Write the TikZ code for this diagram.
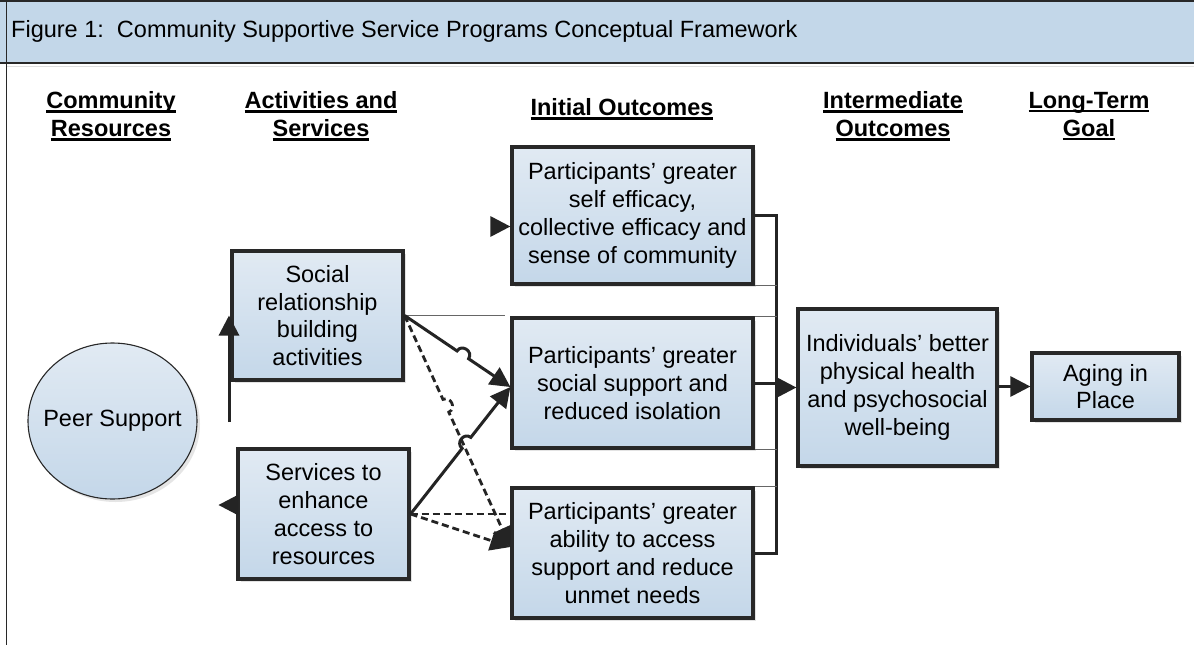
\documentclass[tikz,border=0pt]{standalone}
\usepackage{fontspec}
\setmainfont{Liberation Sans}
\usetikzlibrary{arrows.meta,calc,shadows,shapes.geometric}

\definecolor{bandfill}{HTML}{C3D7E9}
\definecolor{edgegray}{HTML}{282828}
\definecolor{boxtop}{HTML}{E1EAF3}
\definecolor{boxbot}{HTML}{C4D7E9}
\definecolor{linkgray}{HTML}{242424}

% bold column heading with a heavy underline
\newcommand{\hdrul}[1]{\setbox0=\hbox{#1}\rlap{\rule[-4pt]{\wd0}{2.4pt}}\box0}

\tikzset{
  txt/.style={font=\fontsize{23.5}{27.8}\selectfont},
  hdr/.style={font=\fontsize{23.5}{28}\selectfont\bfseries, align=center, inner sep=0pt},
  box/.style={txt, draw=edgegray, line width=3.2pt, top color=boxtop, bottom color=boxbot,
    inner sep=0pt, align=center,
    drop shadow={shadow xshift=3pt, shadow yshift=-3pt, opacity=0.22, fill=gray}},
  conn/.style={draw=linkgray, line width=3pt},
  dconn/.style={conn, line width=2.8pt, dash pattern=on 7pt off 4pt},
  thinconn/.style={draw=gray!80!black, line width=1.4pt},
  tip/.style={-{Triangle[length=20pt,width=20pt]}},
  hopped/.style={bend left=90, looseness=1.6}
}

\begin{document}
\begin{tikzpicture}[x=1pt,y=-1pt]
\useasboundingbox (0,0) rectangle (1194,645);
\fill[white] (0,0) rectangle (1194,645);

% title band
\fill[bandfill] (0,0) rectangle (1194,63);
\draw[edgegray, line width=1.8pt] (0,0.9) -- (1194,0.9);
\draw[edgegray, line width=1.6pt] (0,63) -- (1194,63);
\draw[gray!25, line width=1.5pt] (6,66.5) -- (1194,66.5);
\draw[edgegray, line width=1.4pt] (6.5,0) -- (6.5,645);
\node[txt, anchor=west, inner sep=0pt] (title) at (11,31)
  {Figure 1:\ \ Community Supportive Service Programs Conceptual Framework};

% column headings
\node[hdr] (hcr) at (111,116) {\hdrul{Community}\\\hdrul{Resources}};
\node[hdr] (has) at (321,116) {\hdrul{Activities and}\\\hdrul{Services}};
\node[hdr] (hio) at (622,109) {\hdrul{Initial Outcomes}};
\node[hdr] (him) at (893,116) {\hdrul{Intermediate}\\\hdrul{Outcomes}};
\node[hdr] (hlg) at (1089,116) {\hdrul{Long-Term}\\\hdrul{Goal}};

% resource
\node[txt, ellipse, draw=edgegray, line width=1.1pt, top color=boxtop, bottom color=boxbot,
  minimum width=169pt, minimum height=156pt, inner xsep=-10pt, inner ysep=0pt,
  drop shadow={shadow xshift=3pt, shadow yshift=-3pt, opacity=0.2, fill=gray}]
  (ps) at (112.5,421) {Peer Support};

% activities and services
\node[box, minimum width=171pt, minimum height=129pt] (sr) at (317.5,315.5)
  {Social\\relationship\\building\\activities};
\node[box, minimum width=171pt, minimum height=130pt] (sv) at (323.5,514)
  {Services to\\enhance\\access to\\resources};

% initial outcomes
\node[box, minimum width=241pt, minimum height=137pt] (io1) at (632.5,215.5)
  {Participants’ greater\\self efficacy,\\collective efficacy and\\sense of community};
\node[box, minimum width=241pt, minimum height=130pt] (io2) at (632.5,383)
  {Participants’ greater\\social support and\\reduced isolation};
\node[box, minimum width=241pt, minimum height=130pt] (io3) at (632.5,553)
  {Participants’ greater\\ability to access\\support and reduce\\unmet needs};

% intermediate outcome and long-term goal
\node[box, minimum width=199pt, minimum height=157pt] (im) at (897.5,387.5)
  {Individuals’ better\\physical health\\and psychosocial\\well-being};
\node[box, minimum width=147pt, minimum height=67pt] (ag) at (1105.5,386.5)
  {Aging in\\Place};

% peer support feeding the activities
\coordinate (psfoot) at (229,422);
\draw[conn, tip] (psfoot) -- (psfoot |- sr.west);
\draw[conn, tip] ($(sv.west)+(0,-9)$) -- ++(-18,0);
\draw[conn, tip] ($(io1.west)+(-19,11)$) -- ($(io1.west)+(0,11)$);

% links from the social relationship box
\coordinate (srend) at ($(sr.east)+(100,0)$);
\draw[thinconn] (sr.east) -- (srend);
\coordinate (ha) at ($(sr.east)!0.55!($(io2.west)+(0,4)$)$);
\draw[conn, tip] (sr.east) -- ($(ha)!7pt!(sr.east)$)
  to[hopped] ($(ha)!7pt!($(io2.west)+(0,4)$)$) -- ($(io2.west)+(0,4)$);
\coordinate (hb) at ($(sr.east)!0.39!($(io3.west)+(0,-6)$)$);
\draw[dconn, tip] (sr.east) -- ($(hb)!7pt!(sr.east)$)
  to[hopped] ($(hb)!7pt!($(io3.west)+(0,-6)$)$) -- ($(io3.west)+(0,-6)$);

% links from the services box
\coordinate (hc) at ($(sv.east)!0.56!($(io2.west)+(0,4)$)$);
\draw[conn, tip] (sv.east) -- ($(hc)!7pt!(sv.east)$)
  to[hopped] ($(hc)!7pt!($(io2.west)+(0,4)$)$) -- ($(io2.west)+(0,4)$);
\coordinate (svend) at ($(sv.east)+(98,0)$);
\draw[dconn] (sv.east) -- (svend);
\draw[dconn, tip] (sv.east) -- ($(io3.west)+(0,-6)$);

% bracket joining the initial outcomes
\coordinate (bk) at ($(io1.east)+(22,0)$);
\draw[conn, line width=3pt] (io1.east) -- (bk) -- (bk |- io3.east) -- (io3.east);
\draw[conn, line width=3pt] (io2.east) -- (bk |- io2.east);
\draw[thinconn] (io1.south east) -- (bk |- io1.south east);
\draw[thinconn] (io2.north east) -- (bk |- io2.north east);
\draw[thinconn] (io2.south east) -- (bk |- io2.south east);
\draw[thinconn] (io3.north east) -- (bk |- io3.north east);
\draw[conn, tip] (bk |- im.west) -- (im.west);
\draw[conn, tip] (im.east |- ag.west) -- (ag.west);
\end{tikzpicture}
\end{document}
